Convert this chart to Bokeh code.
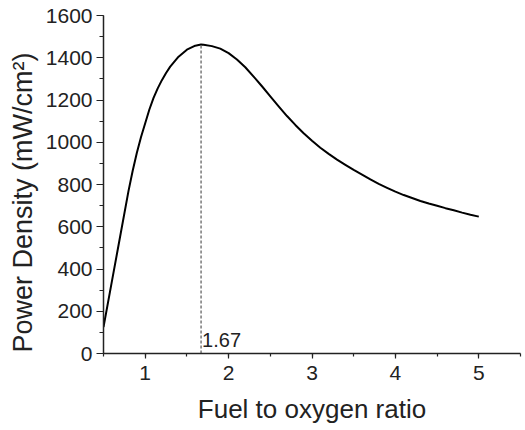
from bokeh.plotting import figure
from bokeh.models import SingleIntervalTicker, Label, Range1d, Title
from bokeh.embed import file_html
from bokeh.resources import INLINE

# Data
fuel_ratio = [0.5, 0.6, 0.7, 0.8, 0.85, 0.9, 0.95, 1.0, 1.05, 1.1, 1.15, 1.2, 1.25,
              1.3, 1.4, 1.5, 1.6, 1.67,
              1.7, 1.8, 1.9, 2.0, 2.1, 2.2, 2.3, 2.4, 2.5, 2.6, 2.7, 2.8, 2.9,
              3.0, 3.1, 3.2, 3.3, 3.4, 3.5, 3.6, 3.7, 3.8, 3.9, 4.0, 4.1, 4.2,
              4.3, 4.4, 4.5, 4.6, 4.7, 4.8, 4.9, 5.0]
power_density = [125, 340, 555, 770, 865, 950, 1025, 1090, 1155, 1210, 1255, 1294, 1328,
                 1358, 1405, 1438, 1457, 1463,
                 1462, 1455, 1443, 1422, 1392, 1355, 1311, 1265, 1217, 1170, 1124, 1082, 1043,
                 1007, 974, 945, 918, 893, 869, 847, 824, 803, 784, 766, 750, 736,
                 722, 710, 699, 688, 678, 667, 657, 648]
peak_x = 1.67
peak_y = 1463
peak_label = "1.67"
x_label = "Fuel to oxygen ratio"
y_label = "Power Density (mW/cm\u00b2)"

FONT = "Liberation Sans"

p = figure(width=525, height=430, output_backend="svg", toolbar_location=None,
           x_range=Range1d(0.5, 5.5), y_range=Range1d(0, 1600),
           min_border_left=103, min_border_right=5, min_border_top=15,
           min_border_bottom=77)
p.background_fill_color = "white"
p.border_fill_color = "white"
p.outline_line_color = None
p.grid.visible = False

p.line(fuel_ratio, power_density, line_color="black", line_width=2,
       line_join="round")
p.line([peak_x, peak_x], [0, peak_y], line_color="#808080", line_width=1.6,
       line_dash="3 2")

p.add_layout(Label(x=peak_x, y=0, text=peak_label, x_offset=1, y_offset=7,
                   text_font=FONT, text_font_size="20px", text_color="#222222"))

p.xaxis.ticker = SingleIntervalTicker(interval=1, num_minor_ticks=2)
p.yaxis.ticker = SingleIntervalTicker(interval=200, num_minor_ticks=2)

for ax in (p.xaxis[0], p.yaxis[0]):
    ax.axis_line_color = "#222222"
    ax.axis_line_width = 1.5
    ax.major_tick_line_color = "#222222"
    ax.minor_tick_line_color = "#222222"
    ax.major_tick_line_width = 1.2
    ax.minor_tick_line_width = 1.2
    ax.major_tick_in = 0
    ax.minor_tick_in = 0
    ax.major_label_text_font = FONT
    ax.major_label_text_font_size = "21px"
    ax.major_label_text_color = "#222222"
    ax.axis_label_text_font = FONT
    ax.axis_label_text_font_size = "26px"
    ax.axis_label_text_font_style = "normal"
    ax.axis_label_text_color = "#222222"

p.xaxis.axis_label = x_label
p.xaxis.major_tick_out = 5
p.xaxis.minor_tick_out = 3
p.yaxis.major_tick_out = 7
p.yaxis.minor_tick_out = 4
p.xaxis.major_label_standoff = 7
p.yaxis.major_label_standoff = 4
p.xaxis.axis_label_standoff = 11

# y-axis title as a side-panel title, aligned to start near the bottom of the frame
p.add_layout(Title(text=y_label, align="left", offset=1, standoff=9,
                   text_font=FONT, text_font_size="27px",
                   text_font_style="normal", text_color="#222222"), "left")

open("out.html", "w").write(file_html(p, INLINE))
